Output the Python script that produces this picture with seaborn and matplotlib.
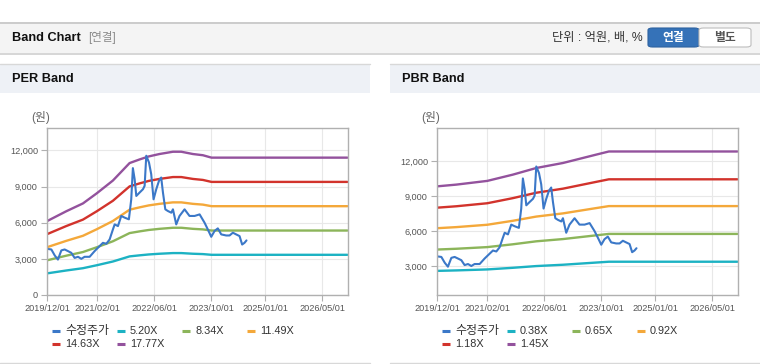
import numpy as np
import pandas as pd
import matplotlib
matplotlib.use("Agg")
import matplotlib.pyplot as plt
import matplotlib.dates as mdates
from matplotlib.patches import Rectangle, FancyBboxPatch
from matplotlib.lines import Line2D
import seaborn as sns

# ---------------- data ----------------
price_dates = ["2019-12-01", "2020-01-07", "2020-02-05", "2020-03-03", "2020-04-01", "2020-04-29",
               "2020-05-28", "2020-06-25", "2020-07-23", "2020-08-21", "2020-09-18", "2020-10-16",
               "2020-11-28", "2021-01-09", "2021-02-21", "2021-03-21", "2021-04-19", "2021-05-17",
               "2021-06-14", "2021-06-29", "2021-07-27", "2021-08-24", "2021-09-22", "2021-10-28",
               "2021-11-17", "2021-12-01", "2021-12-16", "2021-12-30", "2022-01-27", "2022-02-25",
               "2022-03-11", "2022-03-25", "2022-04-17", "2022-05-06", "2022-05-26", "2022-06-18",
               "2022-07-11", "2022-07-30", "2022-08-14", "2022-09-03", "2022-09-25", "2022-10-24",
               "2022-11-07", "2022-12-05", "2023-01-02", "2023-02-14", "2023-03-28", "2023-05-10",
               "2023-06-22", "2023-08-03", "2023-08-31", "2023-09-29", "2023-10-27", "2023-11-24",
               "2023-12-23", "2024-02-03", "2024-03-03", "2024-03-31", "2024-04-28", "2024-05-27",
               "2024-06-18", "2024-07-08", "2024-07-25"]
price_values = [3830, 3780, 3280, 2940, 3700, 3780, 3640, 3500, 3080, 3170, 3000, 3170,
                3170, 3640, 4060, 4330, 4250, 4610, 5440, 5860, 5720, 6560, 6420, 6280,
                7940, 10530, 9610, 8220, 8500, 8780, 9060, 11560, 11000, 10030, 7940, 8780,
                9470, 9750, 8500, 7110, 6970, 6830, 7110, 5860, 6560, 7110, 6560, 6560,
                6690, 6000, 5440, 4830, 5310, 5530, 5030, 4940, 4940, 5170, 5030, 4890,
                4190, 4330, 4530]

per_dates = ["2019-12-01", "2020-05-13", "2020-10-02", "2021-01-29", "2021-06-14", "2021-11-03",
             "2022-01-27", "2022-04-15", "2022-07-15", "2022-11-07", "2023-01-17", "2023-04-26",
             "2023-07-20", "2023-10-01", "2026-12-01"]
per_520 = [1794, 2034, 2224, 2473, 2780, 3204, 3292, 3365, 3424, 3479, 3479, 3424, 3395, 3336, 3336]
per_834 = [2877, 3262, 3567, 3966, 4459, 5139, 5280, 5397, 5491, 5580, 5580, 5491, 5444, 5350, 5350]
per_1149 = [3964, 4494, 4914, 5464, 6143, 7080, 7274, 7436, 7565, 7688, 7688, 7565, 7501, 7371, 7371]
per_1463 = [5047, 5722, 6257, 6957, 7821, 9015, 9262, 9468, 9633, 9789, 9789, 9633, 9550, 9386, 9386]
per_1777 = [6130, 6950, 7600, 8450, 9500, 10950, 11250, 11500, 11700, 11890, 11890, 11700, 11600, 11400, 11400]

pbr_dates = ["2019-12-01", "2020-05-13", "2021-02-01", "2021-09-07", "2022-03-25", "2022-11-07",
             "2023-08-17", "2023-12-03", "2026-12-01"]
pbr_038 = [2581, 2621, 2705, 2846, 2995, 3108, 3297, 3368, 3368]
pbr_065 = [4416, 4483, 4626, 4868, 5124, 5317, 5639, 5760, 5760]
pbr_092 = [6250, 6345, 6548, 6890, 7252, 7525, 7982, 8153, 8153]
pbr_118 = [8016, 8138, 8398, 8838, 9302, 9652, 10237, 10457, 10457]
pbr_145 = [9850, 10000, 10320, 10860, 11430, 11860, 12580, 12850, 12850]

price_label = "수정주가"
per_labels = ["5.20X", "8.34X", "11.49X", "14.63X", "17.77X"]
pbr_labels = ["0.38X", "0.65X", "0.92X", "1.18X", "1.45X"]
x_tick_labels = ["2019/12/01", "2021/02/01", "2022/06/01", "2023/10/01", "2025/01/01", "2026/05/01"]
y_ticks = [0, 3000, 6000, 9000, 12000]

# ---------------- style ----------------
PRICE_C = "#3b78c8"
BAND_C = ["#1cb2c3", "#8cb55a", "#f4a83a", "#d2332c", "#93529d"]

W, H = 760, 364
sns.set_theme(style="white")
plt.rcParams["font.family"] = ["Liberation Sans", "Noto Sans CJK KR", "DejaVu Sans"]

fig = plt.figure(figsize=(W / 100, H / 100), dpi=100)
fig.patch.set_facecolor("white")


def fx(x):
    return x / W


def fy(y):
    return 1 - y / H


def rect(x0, y0, x1, y1, color, z=0, **kw):
    fig.add_artist(Rectangle((fx(x0), fy(y1)), (x1 - x0) / W, (y1 - y0) / H,
                             transform=fig.transFigure, facecolor=color, edgecolor="none",
                             zorder=z, **kw))


def hline(x0, x1, y, color, lw=1.0):
    fig.add_artist(Line2D([fx(x0), fx(x1)], [fy(y), fy(y)], transform=fig.transFigure,
                          color=color, lw=lw, zorder=1))


# header bar
rect(0, 22, W, 53, "#f4f4f4")
hline(0, W, 22.5, "#c4c4c4", 1.2)
hline(0, W, 53.5, "#cfcfcf", 1.2)
fig.text(fx(12), fy(38), "Band Chart", fontsize=9.2, fontweight="bold", color="#111111", va="center")
fig.text(fx(88), fy(38), "[연결]", fontsize=8.3, color="#8a8a8a", va="center")
fig.text(fx(552), fy(38), "단위 : 억원, 배, %", fontsize=8.8, color="#333333", va="center")
fig.add_artist(FancyBboxPatch((fx(648), fy(47)), (699 - 648) / W, 19 / H,
                              boxstyle="round,pad=0,rounding_size=0.006",
                              transform=fig.transFigure, facecolor="#3572b8",
                              edgecolor="#2d62a0", lw=0.8, zorder=2))
fig.add_artist(FancyBboxPatch((fx(699), fy(47)), (751 - 699) / W, 19 / H,
                              boxstyle="round,pad=0,rounding_size=0.006",
                              transform=fig.transFigure, facecolor="white",
                              edgecolor="#bdbdbd", lw=0.8, zorder=2))
fig.text(fx(673.5), fy(37.5), "연결", fontsize=8.5, fontweight="bold", color="white",
         ha="center", va="center", zorder=3)
fig.text(fx(725), fy(37.5), "별도", fontsize=8.5, fontweight="bold", color="#555555",
         ha="center", va="center", zorder=3)

# panels
for (px0, px1, title) in [(0, 370, "PER Band"), (390, W, "PBR Band")]:
    rect(px0, 64, px1, 93, "#eef1f6")
    hline(px0, px1, 64, "#d8d8d8", 1.0)
    hline(px0, px1, 363, "#d8d8d8", 1.0)
    fig.text(fx(px0 + 12), fy(79), title, fontsize=9.2, fontweight="bold", color="#111111",
             va="center")
    fig.text(fx(px0 + 31), fy(117), "(원)", fontsize=8.5, color="#666666", va="center")


def make_df(dates, vals, name):
    return pd.DataFrame({"date": pd.to_datetime(dates), "value": vals, "series": name})


xmin, xmax = pd.Timestamp("2019-12-01"), pd.Timestamp("2026-12-06")
tick_dates = [pd.Timestamp(s.replace("/", "-")) for s in x_tick_labels]


def draw_panel(left_px, band_dates, bands, labels, ylim, yticks):
    ax = fig.add_axes([fx(left_px), fy(295), 301 / W, 167 / H])
    ax.set_facecolor("white")
    df = pd.concat([make_df(band_dates, v, n) for v, n in zip(bands, labels)])
    sns.lineplot(data=df, x="date", y="value", hue="series", hue_order=labels,
                 palette=BAND_C, linewidth=1.7, legend=False, ax=ax,
                 estimator=None, sort=False)
    pdf = make_df(price_dates, price_values, price_label)
    sns.lineplot(data=pdf, x="date", y="value", color=PRICE_C, linewidth=1.5,
                 legend=False, ax=ax, estimator=None, sort=False)
    ax.set_xlim(xmin, xmax)
    ax.set_ylim(*ylim)
    ax.set_xticks(tick_dates)
    ax.set_xticklabels(x_tick_labels)
    ax.set_yticks(yticks)
    ax.set_yticklabels([f"{v:,}" for v in yticks])
    ax.set_xlabel("")
    ax.set_ylabel("")
    ax.grid(True, color="#e8e8e8", linewidth=0.8)
    ax.set_axisbelow(True)
    for s in ax.spines.values():
        s.set_color("#b0b0b0")
        s.set_linewidth(1.0)
    ax.tick_params(axis="both", which="major", labelsize=6.6, colors="#b0b0b0",
                   labelcolor="#555555", length=4.5, width=0.8, pad=2, direction="out",
                   bottom=True, left=True)
    return ax


draw_panel(47, per_dates, [per_520, per_834, per_1149, per_1463, per_1777], per_labels,
           (0, 13860), y_ticks)
draw_panel(437, pbr_dates, [pbr_038, pbr_065, pbr_092, pbr_118, pbr_145], pbr_labels,
           (506, 14870), y_ticks[1:])


# legends
def legend_item(x0, y, color, text, size):
    fig.add_artist(Line2D([fx(x0), fx(x0 + 8)], [fy(y), fy(y)], transform=fig.transFigure,
                          color=color, lw=2.2, solid_capstyle="butt"))
    fig.text(fx(x0 + 13), fy(y), text, fontsize=size, color="#333333", va="center")


for base, labels in [(0, per_labels), (390, pbr_labels)]:
    names = [price_label] + labels
    colors = [PRICE_C] + BAND_C
    cols = [52, 117, 182, 247]
    for i, (n, c) in enumerate(zip(names, colors)):
        row, col = divmod(i, 4)
        legend_item(base + cols[col], 331 + row * 12.7, c, n, 8.6 if i == 0 else 7.8)

fig.savefig("out.png", dpi=100, facecolor="white")
